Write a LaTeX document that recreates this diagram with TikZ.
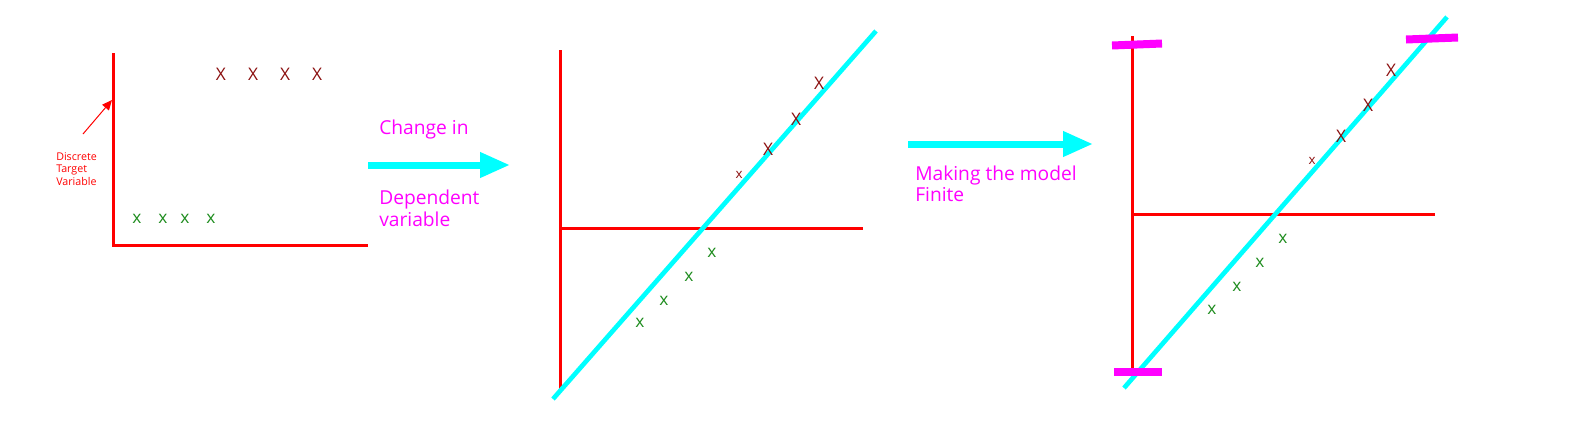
\documentclass[tikz,border=0pt]{standalone}
\usepackage{fontspec}
\setmainfont{Open Sans}
\usetikzlibrary{arrows.meta}
\definecolor{axred}{HTML}{FF0000}
\definecolor{lcyan}{HTML}{00FFFF}
\definecolor{mag}{HTML}{FF00FF}
\definecolor{dred}{HTML}{8B1010}
\definecolor{dgreen}{HTML}{1E8C1E}
\begin{document}
\begin{tikzpicture}[x=0.75pt,y=-0.75pt,
  axis/.style={draw=axred, line width=2.25pt},
  fitline/.style={draw=lcyan, line width=3.5pt},
  bar/.style={draw=mag, line width=6pt},
  bigarrow/.style={draw=lcyan, line width=5.25pt, -{Triangle[length=22.5pt,width=18pt]}},
  hi/.style={text=dred, font=\fontsize{13}{16}\selectfont, inner sep=0pt},
  hismall/.style={text=dred, font=\fontsize{10}{12}\selectfont, inner sep=0pt},
  lo/.style={text=dgreen, font=\fontsize{13}{16}\selectfont, inner sep=0pt},
  lbl/.style={text=mag, font=\fontsize{14.4}{17}\selectfont, inner sep=0pt, anchor=base west},
  small/.style={text=axred, font=\fontsize{8}{10}\selectfont, inner sep=0pt, anchor=base west}
]
\useasboundingbox (0,0) rectangle (1586,422);

% ---------- panel 1 ----------
\coordinate (p1top) at (113,53);
\coordinate (p1o) at (113,245);
\coordinate (p1right) at (368,245);
\draw[axis] (p1top) -- (p1o) -- (p1right);
\foreach \x [count=\i] in {221,253,285,317} \node[hi] (p1h\i) at (\x,74) {X};
\foreach \x [count=\i] in {137,163,185,211} \node[lo] (p1l\i) at (\x,219) {x};
\node[small] (dtv1) at (56,160) {Discrete};
\node[small] (dtv2) at (56,172.7) {Target};
\node[small] (dtv3) at (56,185.3) {Variable};
\coordinate (dtvs) at (83,134);
\coordinate (dtve) at (112,100);
\draw[axred, line width=0.75pt, -{Triangle[length=7.5pt,width=6.5pt]}] (dtvs) -- (dtve);

% ---------- arrow 1 ----------
\coordinate (a1s) at (368,165);
\coordinate (a1e) at (510,165);
\draw[bigarrow] (a1s) -- (a1e);
\node[lbl] (t1) at (379,134) {Change in};
\node[lbl] (t2) at (379,204) {Dependent};
\node[lbl] (t3) at (379,226) {variable};

% ---------- panel 2 ----------
\coordinate (p2top) at (560,50);
\coordinate (p2bot) at (560,390);
\coordinate (p2o) at (560,228);
\coordinate (p2right) at (863,228);
\draw[axis] (p2top) -- (p2bot);
\draw[axis] (p2o) -- (p2right);
\coordinate (c2s) at (553,399);
\coordinate (c2e) at (876,31);
\draw[fitline] (c2s) -- (c2e);
\node[hi] (p2h1) at (819,83) {X};
\node[hi] (p2h2) at (796,119) {X};
\node[hi] (p2h3) at (768,149) {X};
\node[hismall] (p2h4) at (739,175) {x};
\node[lo] (p2l1) at (712,253) {x};
\node[lo] (p2l2) at (689,277) {x};
\node[lo] (p2l3) at (664,301) {x};
\node[lo] (p2l4) at (640,323) {x};

% ---------- arrow 2 ----------
\coordinate (a2s) at (908,144);
\coordinate (a2e) at (1093,144);
\draw[bigarrow] (a2s) -- (a2e);
\node[lbl] (t4) at (915,180) {Making the model};
\node[lbl] (t5) at (915,201.7) {Finite};

% ---------- panel 3 ----------
\coordinate (p3top) at (1132,36);
\coordinate (p3bot) at (1132,370);
\coordinate (p3o) at (1132,214);
\coordinate (p3right) at (1435,214);
\draw[axis] (p3top) -- (p3bot);
\draw[axis] (p3o) -- (p3right);
\coordinate (c3s) at (1124,388);
\coordinate (c3e) at (1447,17);
\draw[fitline] (c3s) -- (c3e);
\coordinate (b1s) at (1112,45.5);
\coordinate (b1e) at (1162,43.5);
\coordinate (b2s) at (1114,371.5);
\coordinate (b2e) at (1162,371.5);
\coordinate (b3s) at (1406,39.5);
\coordinate (b3e) at (1458,37.5);
\draw[bar] (b1s) -- (b1e);
\draw[bar] (b2s) -- (b2e);
\draw[bar] (b3s) -- (b3e);
\node[hi] (p3h1) at (1391,70) {X};
\node[hi] (p3h2) at (1368,105) {X};
\node[hi] (p3h3) at (1341,136) {X};
\node[hismall] (p3h4) at (1312,161) {x};
\node[lo] (p3l1) at (1283,239) {x};
\node[lo] (p3l2) at (1260,263) {x};
\node[lo] (p3l3) at (1237,287) {x};
\node[lo] (p3l4) at (1212,310) {x};
\end{tikzpicture}
\end{document}
